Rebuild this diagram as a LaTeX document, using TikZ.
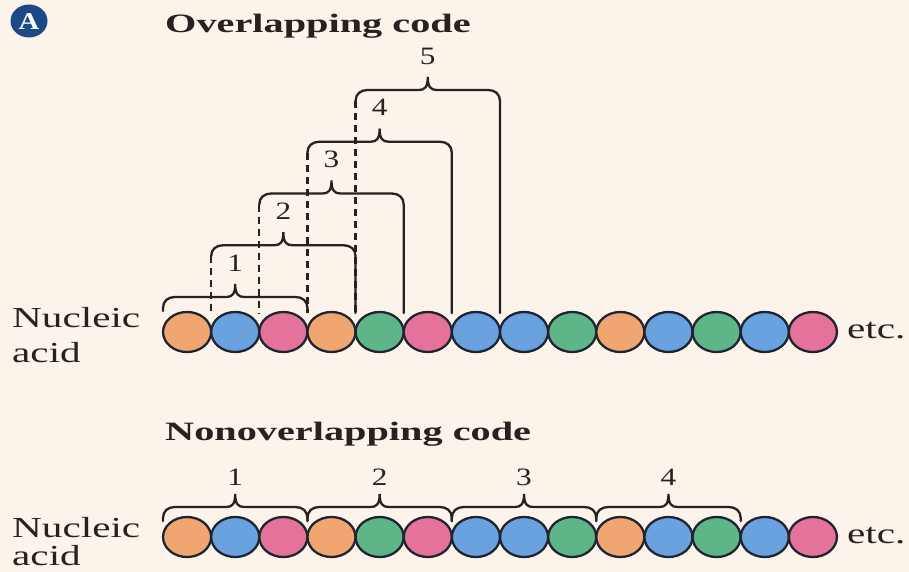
\documentclass[tikz,border=0pt]{standalone}
\usepackage{fontspec}
\setmainfont{Liberation Serif}
\usepackage{graphicx}
\usetikzlibrary{shapes.geometric}
\definecolor{bg}{RGB}{252,243,234}
\definecolor{ink}{RGB}{38,34,34}
\definecolor{rim}{RGB}{30,36,48}
\definecolor{or}{RGB}{241,166,114}
\definecolor{bl}{RGB}{106,162,224}
\definecolor{pk}{RGB}{228,114,154}
\definecolor{gr}{RGB}{94,182,136}
\definecolor{badge}{RGB}{28,74,136}
\newcommand{\mybrace}[5]{%
  \draw[bracel] (#1,#4) -- (#1,#3+11) .. controls (#1,#3+4) and (#1+5,#3) .. (#1+12,#3)
   -- ({(#1+#2)/2-9},#3) .. controls ({(#1+#2)/2-3},#3) and ({(#1+#2)/2},#3-3) .. ({(#1+#2)/2},#3-13)
   .. controls ({(#1+#2)/2},#3-3) and ({(#1+#2)/2+3},#3) .. ({(#1+#2)/2+9},#3)
   -- (#2-12,#3) .. controls (#2-5,#3) and (#2,#3+4) .. (#2,#3+11) -- (#2,#5);}
\begin{document}
\begin{tikzpicture}[x=1pt,y=-1pt,
  bead/.style={ellipse,draw=rim,line width=2.3pt,minimum width=48.1pt,minimum height=40pt,inner sep=0pt},
  bracel/.style={draw=ink,line width=2.3pt,line cap=round},
  dashleg/.style={draw=ink,line width=2.3pt,dash pattern=on 7pt off 5pt},
  lab/.style={text=ink,inner sep=0pt,font=\fontsize{25}{30}\selectfont},
  title/.style={text=ink,anchor=base west,inner sep=0pt,font=\fontsize{26.5}{30}\selectfont\bfseries},
  side/.style={text=ink,anchor=base west,inner sep=0pt,font=\fontsize{29}{34}\selectfont}]
\fill[bg] (0,0) rectangle (909,572);
\useasboundingbox (0,0) rectangle (909,572);

% badge
\node[ellipse,fill=badge,minimum width=37pt,minimum height=33pt,inner sep=0pt] (badge) at (29,21) {};
\node[text=white,inner sep=0pt,font=\fontsize{24}{28}\selectfont\bfseries] (badgeA) at (29,22) {\scalebox{1.2}[1]{A}};

% titles
\node[title] (t1) at (165,33) {\scalebox{1.52}[1]{Overlapping code}};
\node[title] (t2) at (165,440) {\scalebox{1.52}[1]{Nonoverlapping code}};

% side labels
\node[side] (n1) at (12,327) {\scalebox{1.42}[1]{Nucleic}};
\node[side] (a1) at (12,362) {\scalebox{1.42}[1]{acid}};
\node[side] (n2) at (12,537) {\scalebox{1.42}[1]{Nucleic}};
\node[side] (a2) at (12,565) {\scalebox{1.42}[1]{acid}};
\node[side] (etc1) at (847,338) {\scalebox{1.42}[1]{etc.}};
\node[side] (etc2) at (847,543) {\scalebox{1.42}[1]{etc.}};

% overlapping braces
\foreach \k in {2,...,5}{
  \pgfmathsetmacro{\bL}{163+48.14*(\k-1)}
  \pgfmathsetmacro{\bY}{297-51.75*(\k-1)}
  \draw[dashleg] (\bL,\bY+11) -- (\bL,313);
}
\foreach \k in {1,...,5}{
  \pgfmathsetmacro{\bL}{163+48.14*(\k-1)}
  \pgfmathsetmacro{\bR}{\bL+144.42}
  \pgfmathsetmacro{\bY}{297-51.75*(\k-1)}
  \pgfmathsetmacro{\bM}{(\bL+\bR)/2}
  \ifnum\k=1
    \mybrace{\bL}{\bR}{\bY}{311}{311}
  \else
    \mybrace{\bL}{\bR}{\bY}{\bY+11}{313}
  \fi
  \node[lab] (o\k) at (\bM,\bY-34) {\scalebox{1.25}[1]{\k}};
}

% nonoverlapping braces
\foreach \k in {1,...,4}{
  \pgfmathsetmacro{\bL}{163+144.42*(\k-1)}
  \pgfmathsetmacro{\bR}{\bL+144.42}
  \pgfmathsetmacro{\bM}{(\bL+\bR)/2}
  \mybrace{\bL}{\bR}{507}{521}{521}
  \node[lab] (u\k) at (\bM,477) {\scalebox{1.25}[1]{\k}};
}

% beads
\foreach \c [count=\i] in {or,bl,pk,or,gr,pk,bl,bl,gr,or,bl,gr,bl,pk}{
  \node[bead,fill=\c] (e\i) at ({187.07+48.14*(\i-1)},332) {};
  \node[bead,fill=\c] (f\i) at ({187.07+48.14*(\i-1)},537) {};
}
\end{tikzpicture}
\end{document}
